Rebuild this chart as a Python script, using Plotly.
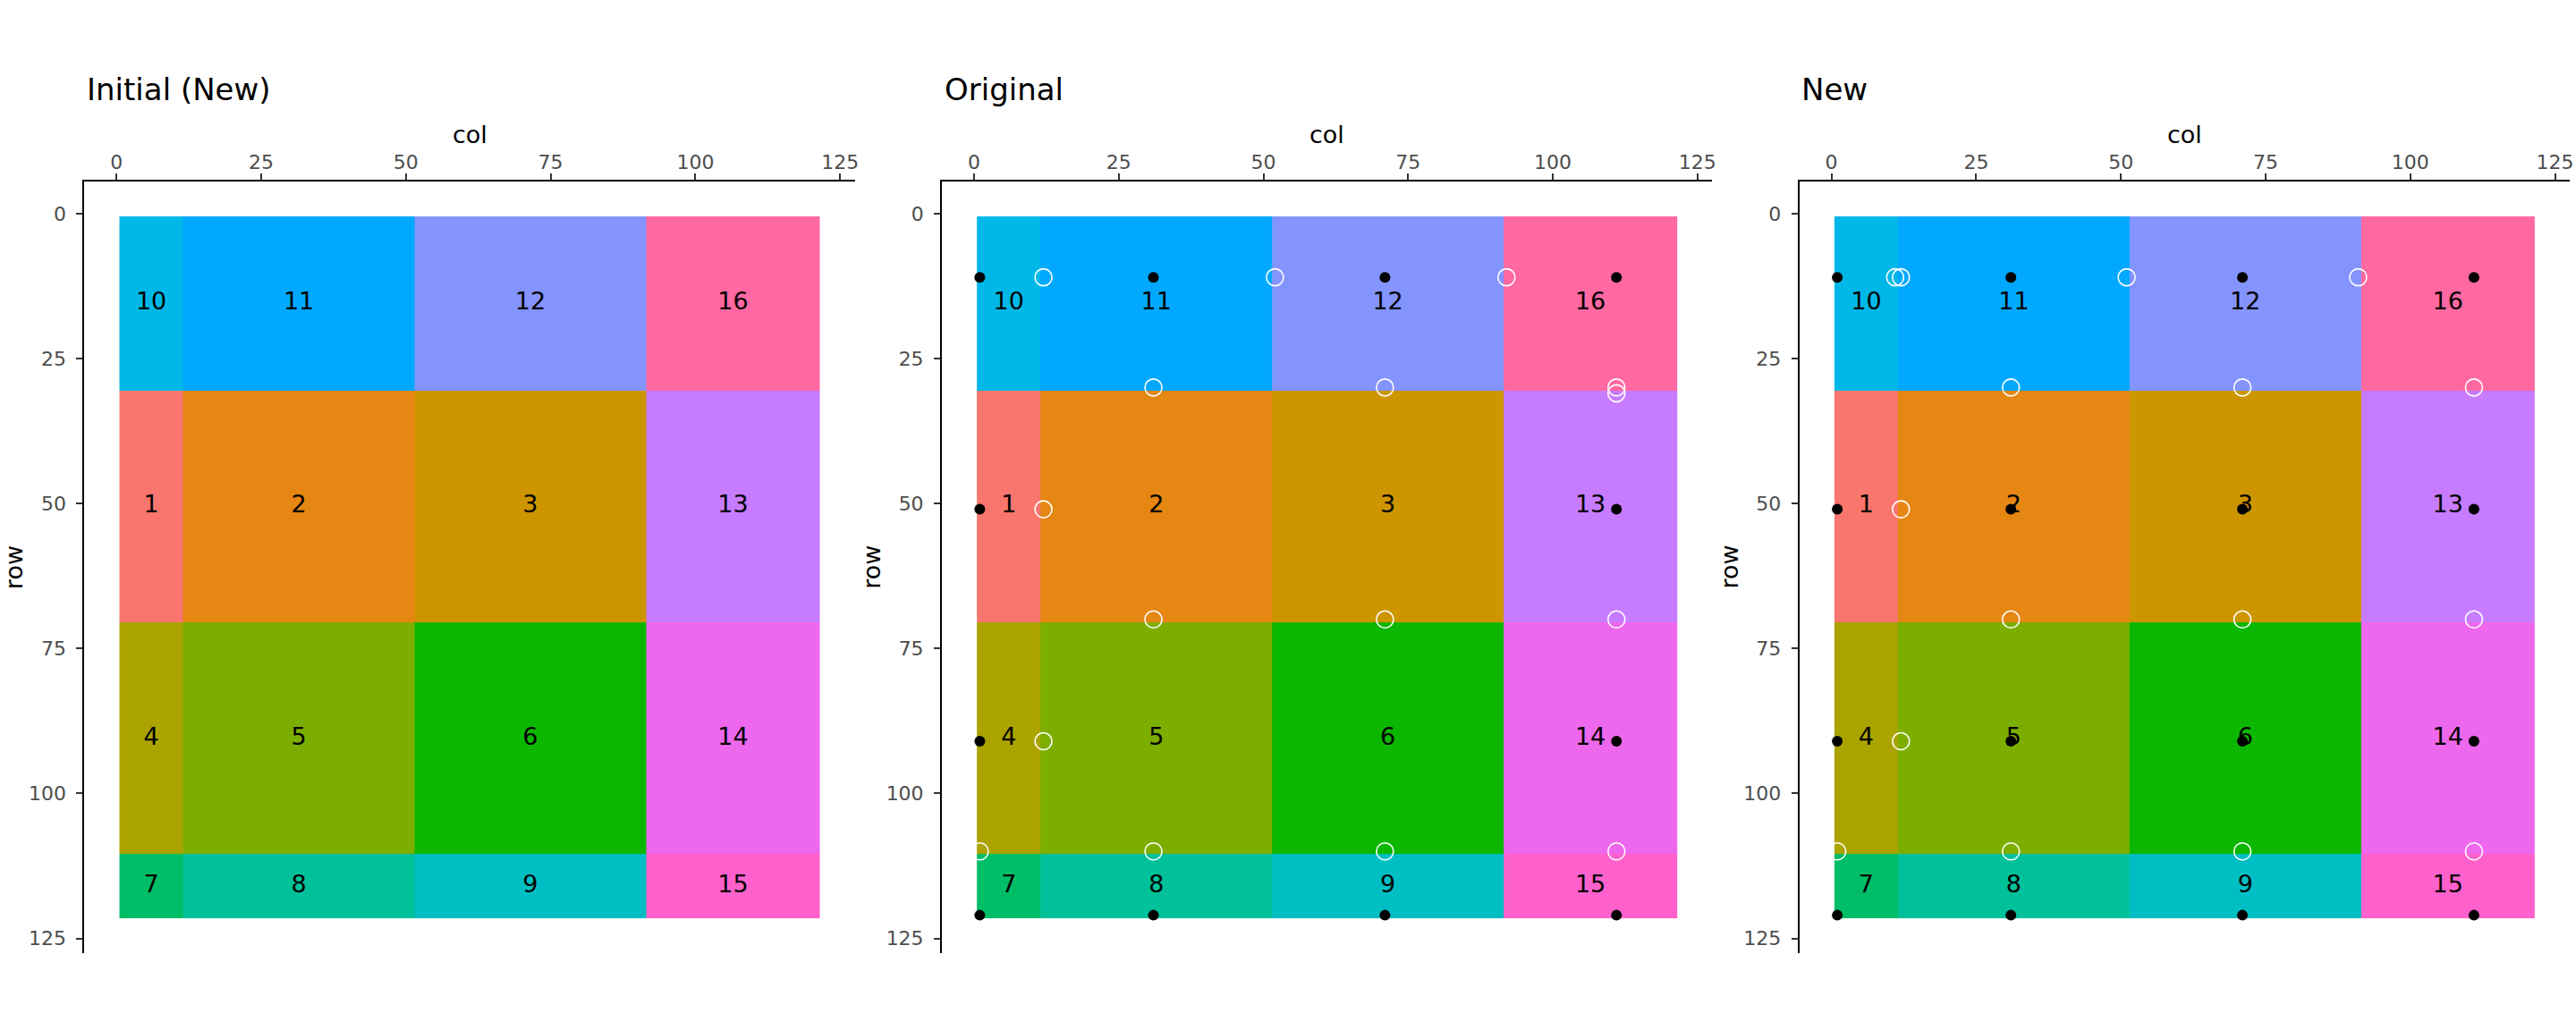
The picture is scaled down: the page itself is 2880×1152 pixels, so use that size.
import plotly.graph_objects as go

# ---------------- data ----------------
col_edges = [0.5, 11.5, 51.5, 91.5, 121.5]
row_edges = [0.5, 30.5, 70.5, 110.5, 121.5]
tile_ids = [
    [10, 11, 12, 16],
    [1, 2, 3, 13],
    [4, 5, 6, 14],
    [7, 8, 9, 15],
]
tile_colors = ["#F8766D", "#E68613", "#CD9600", "#ABA300", "#7CAE00", "#0CB702",
               "#00BE67", "#00C19A", "#00BFC4", "#00B8E7", "#00A9FF", "#8494FF",
               "#C77CFF", "#ED68ED", "#FF61CC", "#FF68A1"]
panel_titles = ["Initial (New)", "Original", "New"]
tick_vals = [0, 25, 50, 75, 100, 125]

# points: "Original" panel
orig_fill_x = [1, 31, 71, 111, 1, 111, 1, 111, 1, 31, 71, 111]
orig_fill_y = [11, 11, 11, 11, 51, 51, 91, 91, 121, 121, 121, 121]
orig_open_x = [12, 52, 92, 31, 71, 111, 111, 12, 31, 71, 111, 12, 1, 31, 71, 111]
orig_open_y = [11, 11, 11, 30, 30, 30, 31, 51, 70, 70, 70, 91, 110, 110, 110, 110]

# points: "New" panel
new_fill_x = [1, 31, 71, 111, 1, 31, 71, 111, 1, 31, 71, 111, 1, 31, 71, 111]
new_fill_y = [11, 11, 11, 11, 51, 51, 51, 51, 91, 91, 91, 91, 121, 121, 121, 121]
new_open_x = [11, 12, 51, 91, 31, 71, 111, 12, 31, 71, 111, 12, 1, 31, 71, 111]
new_open_y = [11, 11, 11, 11, 30, 30, 30, 51, 70, 70, 70, 91, 110, 110, 110, 110]

panel_points = [None,
                (orig_fill_x, orig_fill_y, orig_open_x, orig_open_y),
                (new_fill_x, new_fill_y, new_open_x, new_open_y)]

# ---------------- figure ----------------
W, H = 2880, 1152
FONT = "DejaVu Sans"
n = len(tile_colors)
colorscale = []
for i, c in enumerate(tile_colors):
    colorscale.append([i / n, c])
    colorscale.append([(i + 1) / n, c])

x_mid = [(col_edges[i] + col_edges[i + 1]) / 2 for i in range(len(col_edges) - 1)]
y_mid = [(row_edges[i] + row_edges[i + 1]) / 2 for i in range(len(row_edges) - 1)]
lab_x, lab_y, lab_t = [], [], []
for r, row in enumerate(tile_ids):
    for c, v in enumerate(row):
        lab_x.append(x_mid[c])
        lab_y.append(y_mid[r])
        lab_t.append(str(v))

fig = go.Figure()
xr = [-5.55, 127.55]
yr = [127.55, -5.55]
plot_top, plot_bot = 202.8, 1066.1
left_off, right_off = 94.5, 957.0

annotations = []
for k in range(3):
    sfx = "" if k == 0 else str(k + 1)
    xa, ya = "x" + sfx, "y" + sfx
    fig.add_trace(go.Heatmap(x=col_edges, y=row_edges, z=tile_ids, colorscale=colorscale,
                             zmin=0.5, zmax=n + 0.5, showscale=False, hoverinfo="skip",
                             xaxis=xa, yaxis=ya))
    fig.add_trace(go.Scatter(x=lab_x, y=lab_y, text=lab_t, mode="text",
                             textfont=dict(family=FONT, size=27, color="black"),
                             hoverinfo="skip", showlegend=False, xaxis=xa, yaxis=ya))
    if panel_points[k] is not None:
        fx, fy, ox, oy = panel_points[k]
        fig.add_trace(go.Scatter(x=fx, y=fy, mode="markers",
                                 marker=dict(color="black", size=12),
                                 hoverinfo="skip", showlegend=False, xaxis=xa, yaxis=ya))
        fig.add_trace(go.Scatter(x=ox, y=oy, mode="markers",
                                 marker=dict(symbol="circle-open", color="white", size=19,
                                             line=dict(width=1.6, color="white")),
                                 hoverinfo="skip", showlegend=False, xaxis=xa, yaxis=ya))
    x0 = (960 * k + left_off) / W
    x1 = (960 * k + right_off) / W
    axis_common = dict(showgrid=False, zeroline=False, showline=True, linecolor="black",
                       linewidth=2, ticks="outside", ticklen=7, tickwidth=2,
                       tickcolor="#333333", tickvals=tick_vals,
                       tickfont=dict(family=FONT, size=22, color="#4D4D4D"))
    fig.update_layout(**{
        "xaxis" + sfx: dict(axis_common, domain=[x0, x1], range=xr, side="top",
                            anchor=ya, ticklabelstandoff=-4),
        "yaxis" + sfx: dict(axis_common, domain=[1 - plot_bot / H, 1 - plot_top / H],
                            range=yr, anchor=xa, ticklabelstandoff=7),
    })
    annotations.append(dict(text=panel_titles[k], xref="paper", yref="paper",
                            x=(960 * k + 95) / W, y=1 - 100 / H, xanchor="left",
                            yanchor="middle", showarrow=False,
                            font=dict(family=FONT, size=34, color="black")))
    annotations.append(dict(text="col", xref="paper", yref="paper",
                            x=(x0 + x1) / 2, y=1 - 150.7 / H, xanchor="center",
                            yanchor="middle", showarrow=False,
                            font=dict(family=FONT, size=27, color="black")))
    annotations.append(dict(text="row", xref="paper", yref="paper", textangle=-90,
                            x=(960 * k + 15.7) / W, y=1 - ((plot_top + plot_bot) / 2) / H,
                            xanchor="center", yanchor="middle", showarrow=False,
                            font=dict(family=FONT, size=27, color="black")))

fig.update_layout(width=W, height=H, margin=dict(l=0, r=0, t=0, b=0),
                  paper_bgcolor="white", plot_bgcolor="white", showlegend=False,
                  annotations=annotations)
fig.write_html("out.html")
